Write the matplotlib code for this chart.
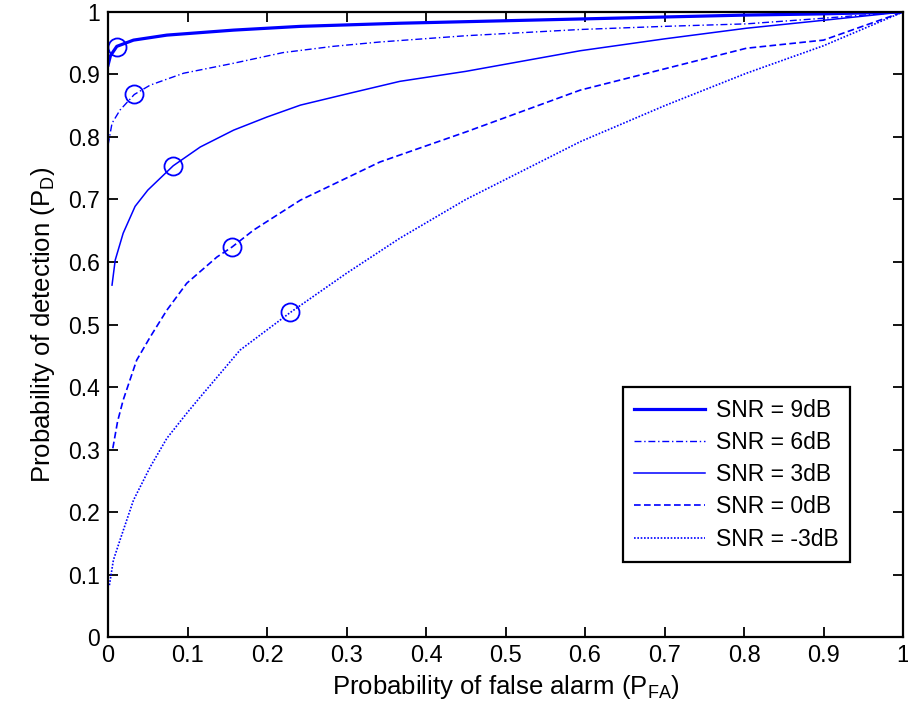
import numpy as np
import matplotlib
matplotlib.use("Agg")
import matplotlib.pyplot as plt

plt.rcParams['font.family'] = ['Liberation Sans', 'DejaVu Sans']
plt.rcParams['mathtext.fontset'] = 'custom'
plt.rcParams['mathtext.rm'] = 'Liberation Sans'
plt.rcParams['mathtext.default'] = 'regular'

# curvas ROC
x_9 = [0, 0.003, 0.011, 0.032, 0.074, 0.158, 0.242, 0.367, 0.5, 0.6, 0.7, 0.8, 0.9, 1.0]
y_9 = [0.915, 0.93, 0.945, 0.955, 0.963, 0.971, 0.977, 0.982, 0.986, 0.989, 0.992, 0.995, 0.997, 1.0]

x_6 = [0, 0.005, 0.015, 0.033, 0.053, 0.095, 0.158, 0.22, 0.283, 0.342, 0.45, 0.594, 0.7, 0.803, 0.9, 1.0]
y_6 = [0.787, 0.822, 0.843, 0.868, 0.883, 0.902, 0.918, 0.935, 0.945, 0.952, 0.962, 0.972, 0.977, 0.981, 0.99, 1.0]

x_3 = [0.005, 0.009, 0.019, 0.034, 0.05, 0.082, 0.116, 0.158, 0.2, 0.242, 0.304, 0.367, 0.45, 0.594, 0.7, 0.803, 0.887, 1.0]
y_3 = [0.563, 0.603, 0.646, 0.689, 0.715, 0.754, 0.784, 0.811, 0.832, 0.851, 0.87, 0.889, 0.905, 0.938, 0.957, 0.974, 0.985, 1.0]

x_0 = [0.006, 0.012, 0.019, 0.036, 0.053, 0.074, 0.099, 0.137, 0.156, 0.183, 0.242, 0.342, 0.45, 0.594, 0.7, 0.803, 0.9, 1.0]
y_0 = [0.302, 0.345, 0.379, 0.443, 0.48, 0.523, 0.566, 0.608, 0.624, 0.651, 0.699, 0.76, 0.808, 0.875, 0.909, 0.942, 0.955, 1.0]

x_m3 = [0.0017, 0.0067, 0.015, 0.032, 0.053, 0.074, 0.099, 0.116, 0.166, 0.229, 0.30, 0.367, 0.45, 0.594, 0.7, 0.803, 0.9, 1.0]
y_m3 = [0.083, 0.123, 0.155, 0.219, 0.272, 0.318, 0.358, 0.384, 0.459, 0.519, 0.582, 0.638, 0.70, 0.7925, 0.85, 0.902, 0.946, 1.0]

# puntos de operacion (circulos)
x_op = [0.011, 0.033, 0.082, 0.156, 0.229]
y_op = [0.944, 0.869, 0.754, 0.624, 0.52]

etiquetas = ["SNR = 9dB", "SNR = 6dB", "SNR = 3dB", "SNR = 0dB", "SNR = -3dB"]
ticks_txt = ["0", "0.1", "0.2", "0.3", "0.4", "0.5", "0.6", "0.7", "0.8", "0.9", "1"]

azul = (0, 0, 1)
fs = 16.5

fig = plt.figure(figsize=(9.08, 7.22), dpi=100)
ax = fig.add_axes([0.119, 0.1177, 0.8755, 0.8657])

ax.plot(x_9, y_9, '-', color=azul, lw=2.3, label=etiquetas[0])
ax.plot(x_6, y_6, '-.', color=azul, lw=1.0, label=etiquetas[1], dashes=(5, 2, 1, 2))
ax.plot(x_3, y_3, '-', color=azul, lw=1.1, label=etiquetas[2])
ax.plot(x_0, y_0, '--', color=azul, lw=1.2, label=etiquetas[3], dashes=(4, 2))
ax.plot(x_m3, y_m3, ':', color=azul, lw=1.2, label=etiquetas[4], dashes=(1, 1))
ax.plot(x_op, y_op, 'o', color=azul, mfc='none', ms=13, mew=1.3)

ax.set_xlim(0, 1)
ax.set_ylim(0, 1)
ax.set_xticks(np.arange(0, 1.01, 0.1))
ax.set_yticks(np.arange(0, 1.01, 0.1))
ax.set_xticklabels(ticks_txt, fontsize=17)
ax.set_yticklabels(ticks_txt, fontsize=fs)
ax.tick_params(direction='in', length=7, width=1.3, top=True, right=True, pad=6)
for s in ax.spines.values():
    s.set_linewidth(1.6)

ax.set_xlabel("Probability of false alarm (P$_{FA}$)", fontsize=18.5, labelpad=4)
ax.set_ylabel("Probability of detection (P$_D$)", fontsize=18.5, labelpad=8)

leg = ax.legend(loc='lower right', bbox_to_anchor=(0.933, 0.12), fontsize=fs,
                frameon=True, fancybox=False, edgecolor='black', framealpha=1,
                handlelength=3.1, handletextpad=0.45, borderpad=0.5,
                labelspacing=0.4, borderaxespad=0)
leg.get_frame().set_linewidth(1.6)

fig.savefig("out.png", dpi=100)
